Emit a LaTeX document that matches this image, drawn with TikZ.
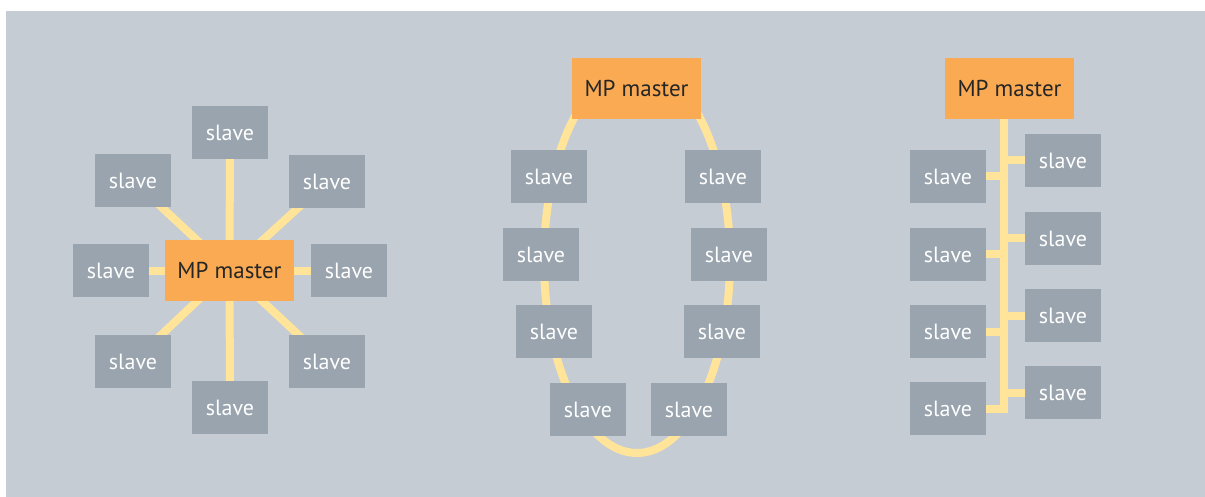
\documentclass[tikz,border=0pt]{standalone}
\usepackage{fontspec}
\setmainfont{PT Sans}
\usetikzlibrary{backgrounds}
\pgfdeclarelayer{links}
\pgfsetlayers{background,links,main}
\definecolor{bgc}{HTML}{C5CCD3}
\definecolor{slavec}{HTML}{99A4AE}
\definecolor{masterc}{HTML}{F9AA52}
\definecolor{linec}{HTML}{FFE49A}
\begin{document}
\begin{tikzpicture}[x=1pt,y=-1pt,
  slavebox/.style={fill=slavec,minimum width=76pt,minimum height=53pt,inner sep=0pt,text=white,font=\fontsize{22}{24}\selectfont},
  masterbox/.style={fill=masterc,minimum width=129pt,minimum height=61pt,inner sep=0pt,text={black!85},font=\fontsize{23}{25}\selectfont},
  link/.style={draw=linec,line width=8pt}]
\useasboundingbox (0,0) rectangle (1205,497);
\begin{scope}[on background layer]
\fill[white] (0,0) rectangle (1205,497);
\fill[bgc] (6,11) rectangle (1205,497);
\end{scope}
% ---------- star ----------
\node[masterbox] (sm) at (229.5,270.5) {MP master};
\node[slavebox] (s1) at (230,132.5) {slave};
\node[slavebox] (s2) at (327,181.5) {slave};
\node[slavebox] (s3) at (349,270.5) {slave};
\node[slavebox] (s4) at (327,361.5) {slave};
\node[slavebox] (s5) at (230,407.5) {slave};
\node[slavebox] (s6) at (133,361.5) {slave};
\node[slavebox] (s7) at (111,270.5) {slave};
\node[slavebox] (s8) at (133,180.5) {slave};
\begin{pgfonlayer}{links}
\foreach \s in {s1,s2,s3,s4,s5,s6,s7,s8}{
  \draw[link] (sm.center) -- (\s.center);
}
\end{pgfonlayer}
% ---------- ring ----------
\node[masterbox] (rm) at (636.5,88.5) {MP master};
\node[slavebox] (rl1) at (549,176.5) {slave};
\node[slavebox] (rl2) at (541,254.5) {slave};
\node[slavebox] (rl3) at (554,331.5) {slave};
\node[slavebox] (rl4) at (588,409.5) {slave};
\node[slavebox] (rr1) at (723,176.5) {slave};
\node[slavebox] (rr2) at (729,254.5) {slave};
\node[slavebox] (rr3) at (722,331.5) {slave};
\node[slavebox] (rr4) at (689,409.5) {slave};
\coordinate (ringc) at (637,260);
\begin{pgfonlayer}{links}
\draw[link] (ringc) ellipse [x radius=93, y radius=193];
\end{pgfonlayer}
% ---------- bus ----------
\node[masterbox] (bm) at (1009.5,88.5) {MP master};
\node[slavebox] (bl1) at (948,176.5) {slave};
\node[slavebox] (bl2) at (948,254.5) {slave};
\node[slavebox] (bl3) at (948,331.5) {slave};
\node[slavebox] (bl4) at (948,408.5) {slave};
\node[slavebox] (br1) at (1063,160.5) {slave};
\node[slavebox] (br2) at (1063,238.5) {slave};
\node[slavebox] (br3) at (1063,315.5) {slave};
\node[slavebox] (br4) at (1063,392.5) {slave};
\coordinate (busend) at (1004,408.5);
\begin{pgfonlayer}{links}
\draw[link,line join=miter] (bm.south -| busend) -- (busend) -- (bl4.east);
\foreach \s in {bl1,bl2,bl3}{
  \draw[link] (\s.east) -- (\s.east -| busend);
}
\foreach \s in {br1,br2,br3,br4}{
  \draw[link] (\s.west) -- (\s.west -| busend);
}
\end{pgfonlayer}
\end{tikzpicture}
\end{document}
